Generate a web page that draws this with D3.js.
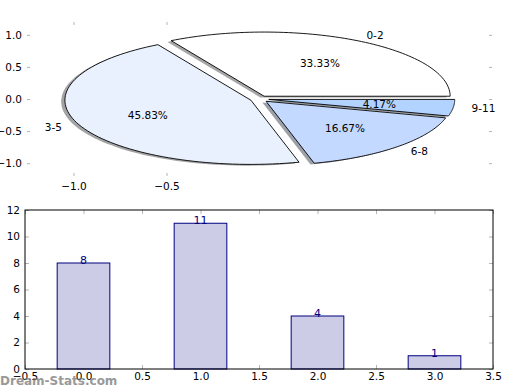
<!DOCTYPE html>
<html>
<head>
<meta charset="utf-8">
<script src="https://cdn.jsdelivr.net/npm/d3@7"></script>
<style>
  body { margin: 0; background: #fff; }
  text { font-family: "DejaVu Sans", sans-serif; }
</style>
</head>
<body>
<div id="chart"></div>
<script>
// data
var categories = ['0-2', '3-5', '6-8', '9-11']
var counts = [8, 11, 4, 1]
var sliceColors = ['#ffffff', '#eaf1fe', '#c4d9ff', '#b2d3ff']
var explode = [0.05, 0.05, 0.05, 0.05]
var pieYTicks = [1.0, 0.5, 0.0, -0.5, -1.0]
var pieXTicks = [-1.0, -0.5]
var barXTicks = [-0.5, 0, 0.5, 1, 1.5, 2, 2.5, 3, 3.5]
var barYTicks = [0, 2, 4, 6, 8, 10, 12]

var width = 520
var height = 390
var tickColor = '#b4b4b4'

var svg = d3.select('#chart').append('svg')
  .attr('width', width)
  .attr('height', height)

// ===== 饼图 =====
var px = d3.scaleLinear().domain([-1.25, 1.25]).range([27, 492])
var py = d3.scaleLinear().domain([-1.2, 1.2]).range([176, 22])

var total = d3.sum(counts)
var slices = []
var acc = 0
counts.forEach(function (v, i) {
  var a0 = acc / total * 2 * Math.PI
  acc += v
  var a1 = acc / total * 2 * Math.PI
  var mid = (a0 + a1) / 2
  slices.push({
    name: categories[i], value: v, a0: a0, a1: a1, mid: mid,
    cx: explode[i] * Math.cos(mid), cy: explode[i] * Math.sin(mid),
    color: sliceColors[i]
  })
})

function wedgePath (s, ox, oy) {
  var pts = [[s.cx + ox, s.cy + oy]]
  var n = 80
  for (var k = 0; k <= n; k++) {
    var a = s.a0 + (s.a1 - s.a0) * k / n
    pts.push([s.cx + ox + Math.cos(a), s.cy + oy + Math.sin(a)])
  }
  return 'M' + pts.map(function (p) { return px(p[0]) + ',' + py(p[1]) }).join('L') + 'Z'
}

var pieG = svg.append('g')

// 阴影
pieG.selectAll('.shadow').data(slices).enter().append('path')
  .attr('class', 'shadow')
  .attr('d', function (d) { return wedgePath(d, -0.02, -0.02) })
  .attr('fill', function (d) {
    var c = d3.rgb(d.color)
    return d3.rgb(c.r * 0.3, c.g * 0.3, c.b * 0.3)
  })
  .attr('opacity', 0.5)

pieG.selectAll('.wedge').data(slices).enter().append('path')
  .attr('class', 'wedge')
  .attr('d', function (d) { return wedgePath(d, 0, 0) })
  .attr('fill', function (d) { return d.color })
  .attr('stroke', '#000')
  .attr('stroke-width', 0.9)
  .attr('stroke-linejoin', 'miter')

// 标签
pieG.selectAll('.lbl').data(slices).enter().append('text')
  .attr('x', function (d) { return px(d.cx + 1.1 * Math.cos(d.mid)) })
  .attr('y', function (d) { return py(d.cy + 1.1 * Math.sin(d.mid)) })
  .attr('dy', '0.35em')
  .attr('text-anchor', function (d) { return Math.cos(d.mid) > 0 ? 'start' : 'end' })
  .attr('font-size', 10.5)
  .text(function (d) { return d.name })

pieG.selectAll('.pct').data(slices).enter().append('text')
  .attr('x', function (d) { return px(d.cx + 0.6 * Math.cos(d.mid)) })
  .attr('y', function (d) { return py(d.cy + 0.6 * Math.sin(d.mid)) })
  .attr('dy', '0.35em')
  .attr('text-anchor', 'middle')
  .attr('font-size', 10.5)
  .text(function (d) { return (d.value / total * 100).toFixed(2) + '%' })

function fmt1 (v) { return d3.format('.1f')(v).replace('-', '\u2212') }

function styleAxis (g) {
  g.select('.domain').remove()
  g.selectAll('.tick line').attr('stroke', tickColor)
  g.selectAll('.tick text').attr('fill', '#000').attr('font-size', 10.5)
    .attr('font-family', '"DejaVu Sans", sans-serif')
}

svg.append('g').attr('transform', 'translate(27,0)')
  .call(d3.axisLeft(py).tickValues(pieYTicks).tickFormat(fmt1).tickSizeInner(-3).tickSizeOuter(0).tickPadding(5))
  .call(styleAxis)
svg.append('g').attr('transform', 'translate(492,0)')
  .call(d3.axisRight(py).tickValues(pieYTicks).tickFormat('').tickSizeInner(-3).tickSizeOuter(0))
  .call(styleAxis)
svg.append('g').attr('transform', 'translate(0,176)')
  .call(d3.axisBottom(px).tickValues(pieXTicks).tickFormat(fmt1).tickSizeInner(-3).tickSizeOuter(0).tickPadding(7))
  .call(styleAxis)
svg.append('g').attr('transform', 'translate(0,22)')
  .call(d3.axisTop(px).tickValues(pieXTicks).tickFormat('').tickSizeInner(-3).tickSizeOuter(0))
  .call(styleAxis)

// ===== 柱状图 =====
var bx = d3.scaleLinear().domain([-0.5, 3.5]).range([25, 493])
var by = d3.scaleLinear().domain([0, 12]).range([369, 210])
var barW = 0.45

svg.append('g').attr('transform', 'translate(25,0)')
  .call(d3.axisLeft(by).tickValues(barYTicks).tickFormat(d3.format('d')).tickSizeInner(-4).tickSizeOuter(0).tickPadding(5))
  .call(styleAxis)
svg.append('g').attr('transform', 'translate(493,0)')
  .call(d3.axisRight(by).tickValues(barYTicks).tickFormat('').tickSizeInner(-4).tickSizeOuter(0))
  .call(styleAxis)
svg.append('g').attr('transform', 'translate(0,369)')
  .call(d3.axisBottom(bx).tickValues(barXTicks).tickFormat(d3.format('.1f')).tickSizeInner(-4).tickSizeOuter(0).tickPadding(4))
  .call(styleAxis)
svg.append('g').attr('transform', 'translate(0,210)')
  .call(d3.axisTop(bx).tickValues(barXTicks).tickFormat('').tickSizeInner(-4).tickSizeOuter(0))
  .call(styleAxis)

var barG = svg.append('g')
barG.selectAll('rect').data(counts).enter().append('rect')
  .attr('x', function (d, i) { return bx(i - barW / 2) })
  .attr('y', function (d) { return by(d) })
  .attr('width', function (d, i) { return bx(i + barW / 2) - bx(i - barW / 2) })
  .attr('height', function (d) { return by(0) - by(d) })
  .attr('fill', '#ccccE6')
  .attr('stroke', '#000080')
  .attr('stroke-width', 1)

barG.selectAll('text').data(counts).enter().append('text')
  .attr('x', function (d, i) { return bx(i) })
  .attr('y', function (d) { return by(d) + 1 })
  .attr('text-anchor', 'middle')
  .attr('font-size', 11)
  .attr('fill', '#000080')
  .text(function (d) { return d })

// 边框
svg.append('rect')
  .attr('x', 25).attr('y', 210)
  .attr('width', 468).attr('height', 159)
  .attr('fill', 'none')
  .attr('stroke', '#000')
  .attr('stroke-width', 1)

// 水印
svg.append('text')
  .attr('x', 0).attr('y', 385)
  .attr('font-size', 12)
  .attr('font-weight', 'bold')
  .attr('fill', '#777')
  .attr('opacity', 0.75)
  .text('Dream-Stats.com')
</script>
</body>
</html>
